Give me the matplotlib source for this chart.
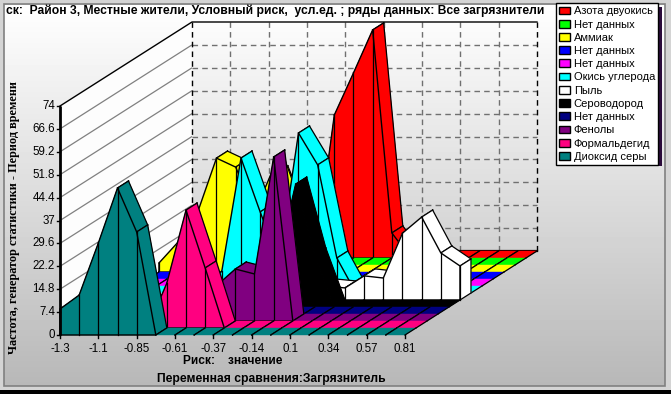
import numpy as np
import matplotlib
matplotlib.use("Agg")
import matplotlib.pyplot as plt
from matplotlib.patches import Patch, Polygon, Rectangle

W, H = 671, 394

# series front to back (hidden stretches are estimates)
dioxide = [8.4, 12.9, 29.7, 47.5, 33.3, 0, 0, 0, 0, 0, 0, 0, 0, 0, 0, 0, 0, 0, 0]
formald = [0, 0, 0, 0, 0, 14.5, 38.1, 19.4, 0, 0, 0, 0, 0, 0, 0, 0, 0, 0, 0]
phenols = [0, 0, 0, 0, 0, 0, 0, 11.3, 16.8, 15.2, 53.0, 0, 0, 0, 0, 0, 0, 0, 0]
nodata_a = [0] * 19
h2s = [0, 0, 0, 0, 0, 0, 0, 0, 0, 12.9, 39.7, 16.8, 0, 0, 0, 0, 0, 0, 0]
dust = [0, 0, 0, 0, 0, 0, 0, 0, 0, 0, 0, 4.5, 3.9, 7.8, 7.1, 21.6, 26.8, 15.2, 11.0]
co = [0, 0, 0, 0, 0, 7.1, 43.6, 26.2, 9.7, 51.7, 41.4, 11.3, 0, 0, 0, 0, 0, 0, 0]
nodata_b = [0] * 19
nodata_c = [0] * 19
ammonia = [2.9, 9.7, 19.0, 36.8, 33.9, 19.4, 33.9, 16.8, 0, 0, 0, 0, 0, 0, 0, 0, 0, 0, 0]
nodata_d = [0] * 19
no2 = [0, 0, 0, 0, 19.7, 27.5, 12.0, 0, 46.2, 59.8, 73.7, 8.1, 0, 0, 0, 0, 0, 0, 0]

series = [dioxide, formald, phenols, nodata_a, h2s, dust, co, nodata_b, nodata_c,
          ammonia, nodata_d, no2]
colors = ["#008080", "#ff0080", "#800080", "#000080", "#000000", "#ffffff",
          "#00ffff", "#ff00ff", "#0000ff", "#ffff00", "#00ff00", "#ff0000"]
legend_labels = ["Азота двуокись", "Нет данных", "Аммиак", "Нет данных", "Нет данных",
                 "Окись углерода", "Пыль", "Сероводород", "Нет данных", "Фенолы",
                 "Формальдегид", "Диоксид серы"]
xlabels = ["-1.3", "-1.1", "-0.85", "-0.61", "-0.37", "-0.14", "0.1", "0.34", "0.57", "0.81"]
yticks = [0, 7.4, 14.8, 22.2, 29.6, 37, 44.4, 51.8, 59.2, 66.6, 74]
ylabels = ["0", "7.4", "14.8", "22.2", "29.6", "37", "44.4", "51.8", "59.2", "66.6", "74"]

N = len(dioxide)
NS = len(series)
# one series deep = this many categories right and this many value units up
DX = 11 / 19.17
DY = 7 * 74 / 229

plt.rcParams["font.family"] = ["Liberation Sans", "DejaVu Sans"]
fig = plt.figure(figsize=(W / 100, H / 100), dpi=100)

# ── window background in pixel coordinates ───────────────────────────────────
bg = fig.add_axes([0, 0, 1, 1])
grad = np.interp(np.arange(H), [5, 60, 200, 385], [1.0, 0.96, 0.86, 0.72])[:, None]
bg.imshow(grad, cmap="gray", vmin=0, vmax=1, extent=[0, W, H, 0], aspect="auto", zorder=0)
bg.set_xlim(0, W)
bg.set_ylim(H, 0)
bg.axis("off")
for r in [(0, 0, W, 5), (0, 386, W, 8), (0, 0, 4, H), (665, 0, 6, H)]:
    bg.add_patch(Rectangle(r[:2], r[2], r[3], fc="#d4d4d4", ec="none", zorder=1))
bg.add_patch(Rectangle((4, 4), 661, 382, fc="none", ec="#808080", lw=1.2, zorder=2))
bg.add_patch(Rectangle((0, 390), W, 4, fc="#000000", ec="none", zorder=2))
bg.add_patch(Rectangle((560, 7), 102, 159, fc="#2a0a3a", ec="none", zorder=2))

# ── chart axes: x in category index, y in value ──────────────────────────────
px = 19.1667
py = 229 / 74
ax = fig.add_axes([0, 0, 1, 1])
ax.patch.set_alpha(0)
ax.set_xlim(-60 / px, (W - 60) / px)
ax.set_ylim(-(H - 335) / py, 335 / py)
ax.axis("off")

z = [3]


def nz():
    z[0] += 1
    return z[0]


def line(xy, **kw):
    kw.setdefault("color", "k")
    kw.setdefault("lw", 0.9)
    ax.plot(*zip(*xy), zorder=nz(), **kw)


def fill(xy, col):
    ax.add_patch(Polygon(xy, fc=col, ec=col, lw=0.3, zorder=nz()))


def pt(j, d, v):
    return j + d * DX, v + d * DY


# walls
xb, yb = pt(0, NS, 0)
yt = pt(0, NS, 74)[1]
xr = pt(N - 1, NS, 0)[0]
fill([(0, 0), (0, 74), (xb, yt), (xb, yb)], "#fdfdfd")
for v in yticks[1:-1]:
    line([(0, v), (xb, v + NS * DY)], color="#808080", solid_capstyle="butt")
    line([(xb, v + NS * DY), (xr, v + NS * DY)], color="#707070", lw=1, ls=(0, (4, 3)))
for j in range(2, N - 1, 2):
    line([(pt(j, NS, 0)[0], yb), (pt(j, NS, 0)[0], yt)], color="#707070", lw=1, ls=(0, (4, 3)))
line([(xb, yb), (xb, yt)], lw=1, ls=(0, (4, 3)))
line([(xr, yb), (xr, yt)], lw=1, ls=(0, (4, 3)))
line([(0, 74), (xb, yt), (xr, yt)], lw=1)
line([(xb, yb), (xr, yb)], lw=1.6)

# ribbons, back to front, left to right inside each
for d in range(NS - 1, -1, -1):
    vals = series[d]
    col = colors[d]
    for j in range(N - 1):
        q = [pt(j, d, vals[j]), pt(j + 1, d, vals[j + 1]),
             pt(j + 1, d + 1, vals[j + 1]), pt(j, d + 1, vals[j])]
        fill(q, col)
        line([q[0], q[3]])
        line([q[1], q[2]])
        if vals[j] or vals[j + 1]:
            line([q[3], q[2]])
    if vals[-1]:
        q = [pt(N - 1, d, 0), pt(N - 1, d, vals[-1]), pt(N - 1, d + 1, vals[-1]), pt(N - 1, d + 1, 0)]
        fill(q, col)
        line(q + [q[0]])
    used = [j for j in range(N) if vals[j]]
    if not used:
        continue
    a = max(used[0] - 1, 0)
    b = min(used[-1] + 1, N - 1)
    face = [pt(a, d, 0)] + [pt(j, d, vals[j]) for j in range(a, b + 1)] + [pt(b, d, 0)]
    fill(face, col)
    line(face + [face[0]], lw=1)
    for j in used:
        line([pt(j, d, 0), pt(j, d, vals[j])])

# axes
line([(0, 0), (0, 74)], lw=2, solid_capstyle="butt")
for v, lab in zip(yticks, ylabels):
    line([(-0.16, v), (0, v)], lw=1)
    ax.text(-0.26, v, lab, ha="right", va="center", fontsize=8.3, zorder=nz())
for i, lab in enumerate(xlabels):
    j = i * 2
    line([(j, 0), (j, -1)], lw=1)
    ax.text(j, -2.6, lab, ha="center", va="top", fontsize=8.3, zorder=nz())


def label(x, y, s, **kw):
    fig.text(x / W, 1 - y / H, s, va="center", **kw)


label(6, 11, "ск:  Район 3, Местные жители, Условный риск,  усл.ед. ; ряды данных: Все загрязнители",
      ha="left", fontsize=8.73, fontweight="bold")
label(14, 218, "Частота, генератор статистики - Период времени", ha="center", rotation=90,
      fontsize=8.8, fontweight="bold", family="Liberation Serif")
label(183, 361, "Риск:    значение", ha="left", fontsize=8.6, fontweight="bold")
label(157, 379, "Переменная сравнения:Загрязнитель", ha="left", fontsize=8.7, fontweight="bold")

handles = [Patch(fc=c, ec="k", lw=1) for c in colors[::-1]]
leg = ax.legend(handles, legend_labels, loc="upper left", bbox_to_anchor=(556 / W, 1 - 3 / H),
                bbox_transform=fig.transFigure, fontsize=8, frameon=True, fancybox=False,
                framealpha=1, edgecolor="k", borderaxespad=0, borderpad=0.3,
                labelspacing=0.29, handlelength=1.0, handleheight=0.7, handletextpad=0.3)
leg.get_frame().set_linewidth(1)
leg.set_zorder(nz())

fig.savefig("out.png", dpi=100)
